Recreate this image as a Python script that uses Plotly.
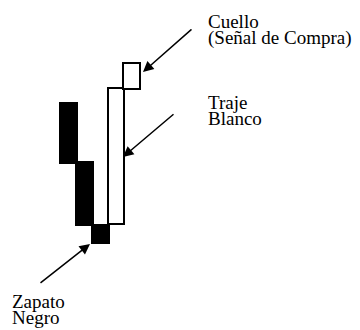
import plotly.graph_objects as go

# Candle data (no shadows): open / close in price units
sessions = [0, 1, 2, 3, 4]
opens = [147, 88, 25, 26, 161]
closes = [87, 25, 7, 162, 187]

labels = ["Cuello", "(Señal de Compra)", "Traje", "Blanco", "Zapato", "Negro"]

W, H = 360, 330

def px(x):
    return x / W

def py(y):
    return 1 - y / H

bases = [min(o, c) for o, c in zip(opens, closes)]
heights = [abs(c - o) for o, c in zip(opens, closes)]
colors = ["black" if c < o else "white" for o, c in zip(opens, closes)]

fig = go.Figure()
fig.add_trace(go.Bar(
    x=sessions, y=heights, base=bases, width=1.06,
    marker=dict(color=colors, line=dict(color="black", width=2)),
    hoverinfo="skip", showlegend=False,
))

FS = 19
font = dict(family="Liberation Serif, Times New Roman, serif", size=FS, color="black")
off = 0.3375 * FS
text_pos = [(206, 28), (206, 44), (206, 109), (206, 125), (10, 308), (10, 324)]
for t, (x, yb) in zip(labels, text_pos):
    fig.add_annotation(text=t, x=px(x), y=py(yb - off), xref="paper", yref="paper",
                       xanchor="left", yanchor="middle", showarrow=False, font=font)

arrows = [((193, 28), (143, 72)), ((175, 113), (123, 157)), ((39, 284), (90, 244))]
for (tx, ty), (hx, hy) in arrows:
    fig.add_annotation(text="", x=px(hx), y=py(hy), xref="paper", yref="paper",
                       ax=tx - hx, ay=ty - hy, axref="pixel", ayref="pixel",
                       showarrow=True, arrowhead=2, arrowsize=1.4, arrowwidth=1.5,
                       arrowcolor="black", standoff=0, startstandoff=0)

fig.update_layout(
    width=W, height=H, margin=dict(l=0, r=0, t=0, b=0),
    paper_bgcolor="white", plot_bgcolor="white", bargap=0,
    xaxis=dict(range=[-4.362, 18.495], visible=False, fixedrange=True),
    yaxis=dict(range=[-80, 250], visible=False, fixedrange=True),
)
fig.write_html("out.html", config={"displayModeBar": False},
               post_script="document.body.style.margin='0';document.body.style.overflow='hidden';")
